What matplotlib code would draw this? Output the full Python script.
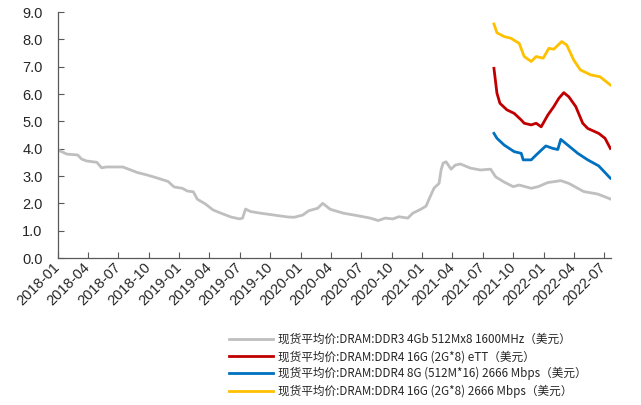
import matplotlib
matplotlib.use("Agg")
import matplotlib.pyplot as plt
import matplotlib.dates as mdates
import pandas as pd

# ---- data ----
gray_dates = ["2018-01-01","2018-01-28","2018-03-01","2018-03-13","2018-03-28","2018-04-28","2018-05-12",
              "2018-05-27","2018-07-15","2018-08-27","2018-09-28","2018-10-28","2018-11-28","2018-12-16",
              "2019-01-10","2019-01-25","2019-02-12","2019-02-24","2019-03-20","2019-04-12","2019-05-06",
              "2019-06-05","2019-07-01","2019-07-10","2019-07-19","2019-08-03","2019-09-02","2019-10-13",
              "2019-11-24","2019-12-12","2020-01-07","2020-01-25","2020-02-21","2020-03-07","2020-03-30",
              "2020-05-08","2020-06-19","2020-07-28","2020-08-21","2020-09-11","2020-10-04","2020-10-22",
              "2020-11-18","2020-12-03","2020-12-28","2021-01-12","2021-01-21","2021-02-05","2021-02-20",
              "2021-02-26","2021-03-04","2021-03-13","2021-03-28","2021-04-10","2021-04-25","2021-05-25",
              "2021-06-24","2021-07-25","2021-08-09","2021-09-02","2021-10-01","2021-10-19","2021-11-24",
              "2021-12-15","2022-01-13","2022-02-21","2022-03-17","2022-05-01","2022-06-12","2022-07-20"]
gray_vals = [3.95,3.80,3.77,3.62,3.55,3.50,3.30,
             3.33,3.33,3.13,3.03,2.92,2.80,2.60,
             2.55,2.45,2.42,2.15,1.98,1.76,1.64,
             1.50,1.43,1.46,1.79,1.70,1.64,1.57,
             1.50,1.49,1.57,1.73,1.82,2.00,1.78,
             1.64,1.55,1.46,1.37,1.46,1.43,1.51,
             1.46,1.64,1.79,1.90,2.16,2.56,2.73,
             3.22,3.47,3.52,3.25,3.40,3.44,3.29,
             3.22,3.25,2.97,2.79,2.61,2.67,2.55,
             2.61,2.76,2.83,2.73,2.43,2.34,2.16]

red_dates = ["2021-08-04","2021-08-13","2021-08-22","2021-09-12","2021-10-04","2021-10-25","2021-11-03",
             "2021-11-24","2021-12-09","2021-12-24","2022-01-13","2022-01-31","2022-02-15","2022-03-02",
             "2022-03-17","2022-04-07","2022-04-28","2022-05-13","2022-06-15","2022-07-04","2022-07-20"]
red_vals = [6.94,6.03,5.66,5.42,5.29,5.05,4.93,
            4.87,4.93,4.80,5.23,5.54,5.84,6.05,
            5.90,5.54,4.93,4.74,4.56,4.38,4.01]

blue_dates = ["2021-08-04","2021-08-13","2021-09-04","2021-10-04","2021-10-25","2021-10-31","2021-11-24",
              "2021-12-09","2021-12-30","2022-01-07","2022-01-28","2022-02-12","2022-02-21","2022-03-08",
              "2022-04-13","2022-05-13","2022-06-15","2022-07-20"]
blue_vals = [4.56,4.38,4.13,3.89,3.83,3.59,3.59,
             3.77,4.01,4.10,4.01,3.97,4.34,4.19,
             3.83,3.59,3.37,2.92]

yellow_dates = ["2021-08-04","2021-08-13","2021-09-04","2021-09-24","2021-10-19","2021-11-03","2021-11-24",
                "2021-12-09","2021-12-30","2022-01-16","2022-01-31","2022-02-24","2022-03-11","2022-04-01",
                "2022-04-21","2022-05-22","2022-06-19","2022-07-20"]
yellow_vals = [8.56,8.24,8.10,8.04,7.85,7.37,7.19,
               7.37,7.31,7.67,7.64,7.92,7.79,7.24,
               6.88,6.70,6.63,6.33]

labels = ["现货平均价:DRAM:DDR3 4Gb 512Mx8 1600MHz（美元）",
          "现货平均价:DRAM:DDR4 16G (2G*8) eTT（美元）",
          "现货平均价:DRAM:DDR4 8G (512M*16) 2666 Mbps（美元）",
          "现货平均价:DRAM:DDR4 16G (2G*8) 2666 Mbps（美元）"]
colors = ["#BFBFBF", "#C00000", "#0070C0", "#FFC000"]
yticks = [0, 1, 2, 3, 4, 5, 6, 7, 8, 9]

# ---- plot ----
fig = plt.figure(figsize=(6.41, 4.05), dpi=100)
ax = fig.add_axes([58/641, 1-258/405, (611-58)/641, (258-12)/405])

series = [(gray_dates, gray_vals), (red_dates, red_vals), (blue_dates, blue_vals), (yellow_dates, yellow_vals)]
handles = []
for (d, v), c in zip(series, colors):
    h, = ax.plot(pd.to_datetime(d), v, color=c, lw=2.0, solid_joinstyle="round")
    handles.append(h)

ax.set_xlim(pd.Timestamp("2018-01-01"), pd.Timestamp("2022-07-22"))
ax.set_ylim(0, 9)
ax.set_yticks(yticks)
ax.set_yticklabels([f"{t:.1f}" for t in yticks])
ax.xaxis.set_major_locator(mdates.MonthLocator(bymonth=[1, 4, 7, 10]))
ax.xaxis.set_major_formatter(mdates.DateFormatter("%Y-%m"))

for s in ["top", "right"]:
    ax.spines[s].set_visible(False)
for s in ["left", "bottom"]:
    ax.spines[s].set_color("#595959")
    ax.spines[s].set_linewidth(0.9)

ax.tick_params(axis="both", direction="in", length=4, width=0.8, color="#595959",
               labelsize=10.5, labelcolor="#262626")
ax.tick_params(axis="y", pad=11)
ax.tick_params(axis="x", pad=5)
for lab in ax.get_yticklabels() + ax.get_xticklabels():
    lab.set_fontfamily("Liberation Sans")
for lab in ax.get_xticklabels():
    lab.set_rotation(45)
    lab.set_ha("right")
    lab.set_va("center")
    lab.set_rotation_mode("anchor")

leg = fig.legend(handles, labels, loc="upper left", bbox_to_anchor=(229/641, 1-333/405),
                 frameon=False, handlelength=3.8, handletextpad=0.4,
                 labelspacing=0.35, borderaxespad=0, borderpad=0,
                 prop={"family": ["Noto Sans CJK SC", "DejaVu Sans"], "size": 8.4})
for t in leg.get_texts():
    t.set_color("#262626")

fig.savefig("out.png", dpi=100)
